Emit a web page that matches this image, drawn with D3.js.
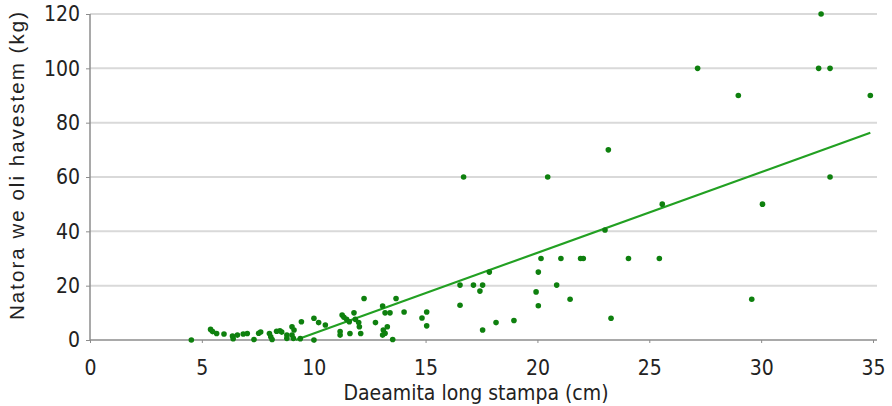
<!DOCTYPE html>
<html>
<head>
<meta charset="utf-8">
<script src="https://cdn.jsdelivr.net/npm/d3@7"></script>
<style>
  body { margin: 0; background: #fff; }
  .tick text { font-family: "Liberation Sans Narrow", "DejaVu Sans Condensed", sans-serif; font-stretch: condensed; }
</style>
</head>
<body>
<svg id="chart" width="892" height="406"></svg>
<script>
// tree diameter (cm) vs oil harvested (kg)
const lengthCm = [
    32.68, 27.16, 32.57, 33.08, 28.98, 34.88, 23.17, 16.7, 20.46, 33.08, 25.58, 30.06, 23.02,
    20.16, 21.05, 21.93, 22.05, 24.07, 25.45,
    29.58, 23.29, 20.04, 17.85, 20.86, 19.94, 20.04, 21.46,
    16.54, 17.14, 17.55, 17.43, 16.54, 14.04, 15.05, 14.84, 15.05, 17.55, 18.15, 18.95,
    12.25, 13.68, 9.45, 10.01, 10.22, 10.52, 11.27, 11.35, 11.47, 11.59, 11.8, 11.86, 12.01, 12.76, 13.08, 13.19, 13.41,
    11.18, 11.18, 11.62, 12.04, 12.1, 13.11, 13.19, 13.08, 13.29, 13.53,
    9.03, 9.12, 9.03, 10.01, 8.8, 8.8, 9.09, 9.4,
    4.53, 5.39, 5.48, 5.66, 5.99, 6.37, 6.4, 6.59, 6.85, 7.03, 7.33, 7.54, 7.63, 8.02, 8.08, 8.14, 8.34, 8.49, 8.57
];
const oilKg = [
    120, 100, 100, 100, 90, 90, 70, 60, 60, 60, 50, 50, 40.5,
    30, 30, 30, 30, 30, 30,
    15, 8, 25, 25, 20.2, 17.7, 12.6, 15,
    20.2, 20.2, 20.2, 18, 12.8, 10.3, 10.3, 8.1, 5.2, 3.7, 6.4, 7.2,
    15.3, 15.3, 6.7, 8, 6.4, 5.5, 9.2, 8.4, 7.6, 6.7, 10, 7.6, 6.4, 6.4, 12.5, 10, 10,
    3.1, 1.8, 2.4, 4.9, 2.4, 3.7, 2.5, 1.8, 4.9, 0.2,
    4.9, 3.7, 1.8, 0, 1.8, 0.6, 0.6, 0.5,
    0, 3.9, 3.1, 2.4, 2.2, 1.5, 0.5, 1.8, 2.2, 2.4, 0.2, 2.5, 2.9, 2.4, 1.2, 0.2, 3.2, 3.4, 2.9
];
const xTicks = [0, 5, 10, 15, 20, 25, 30, 35];
const yTicks = [0, 20, 40, 60, 80, 100, 120];
// linear trendline
const trendSlope = 2.97;
const trendIntercept = -27.3;

const xTitle = 'Daeamita long stampa (cm)';
const yTitle = 'Natora we oli havestem (kg)';

let svg = d3.select('#chart');
let plotLeft = 90, plotRight = 873, plotTop = 14, plotBottom = 340;

let x = d3.scaleLinear().domain([0, 35]).range([plotLeft, plotRight]);
let y = d3.scaleLinear().domain([0, 120]).range([plotBottom, plotTop]);

// gridlines
svg.append('g')
    .selectAll('line')
    .data(yTicks.filter(d => d > 0))
    .join('line')
    .attr('x1', plotLeft)
    .attr('x2', plotRight + 4)
    .attr('y1', d => y(d))
    .attr('y2', d => y(d))
    .attr('stroke', '#d9d9d9')
    .attr('stroke-width', 2);

let xAxis = svg.append('g')
    .attr('transform', 'translate(0,' + plotBottom + ')')
    .call(d3.axisBottom(x).tickValues(xTicks).tickSize(3).tickPadding(17));
xAxis.select('.domain').attr('stroke', '#8c8c8c').attr('stroke-width', 1.5)
    .attr('d', 'M' + plotLeft + ',0H' + (plotRight + 4));
xAxis.selectAll('.tick line').attr('stroke', '#8c8c8c');
xAxis.selectAll('.tick text').attr('font-size', 21).attr('fill', '#222');

let yAxis = svg.append('g')
    .attr('transform', 'translate(' + plotLeft + ',0)')
    .call(d3.axisLeft(y).tickValues(yTicks).tickSize(4).tickPadding(6));
yAxis.select('.domain').attr('stroke', '#8c8c8c').attr('stroke-width', 1.5)
    .attr('d', 'M0,' + plotTop + 'V' + plotBottom);
yAxis.selectAll('.tick line').attr('stroke', '#8c8c8c');
yAxis.selectAll('.tick text').attr('font-size', 21).attr('fill', '#222');

// trendline, starts where it crosses zero
let xMin = Math.max(d3.min(lengthCm), -trendIntercept / trendSlope);
let xMax = d3.max(lengthCm);
svg.append('line')
    .attr('x1', x(xMin))
    .attr('y1', y(trendSlope * xMin + trendIntercept))
    .attr('x2', x(xMax))
    .attr('y2', y(trendSlope * xMax + trendIntercept))
    .attr('stroke', '#22a022')
    .attr('stroke-width', 2.2);

// points
svg.append('g')
    .selectAll('circle')
    .data(lengthCm.map((d, i) => [d, oilKg[i]]))
    .join('circle')
    .attr('cx', d => x(d[0]))
    .attr('cy', d => y(d[1]))
    .attr('r', 2.8)
    .attr('fill', '#0e800e');

svg.append('text')
    .attr('x', 476)
    .attr('y', 400)
    .attr('text-anchor', 'middle')
    .attr('font-family', '"Liberation Sans Narrow", "DejaVu Sans Condensed", sans-serif')
    .attr('font-size', 21)
    .attr('fill', '#222')
    .text(xTitle);

svg.append('text')
    .attr('transform', 'translate(24,166) rotate(-90)')
    .attr('text-anchor', 'middle')
    .attr('font-family', '"Liberation Sans", Arial, sans-serif')
    .attr('font-size', 20.5)
    .attr('textLength', 308)
    .attr('lengthAdjust', 'spacing')
    .attr('fill', '#222')
    .text(yTitle);
</script>
</body>
</html>
